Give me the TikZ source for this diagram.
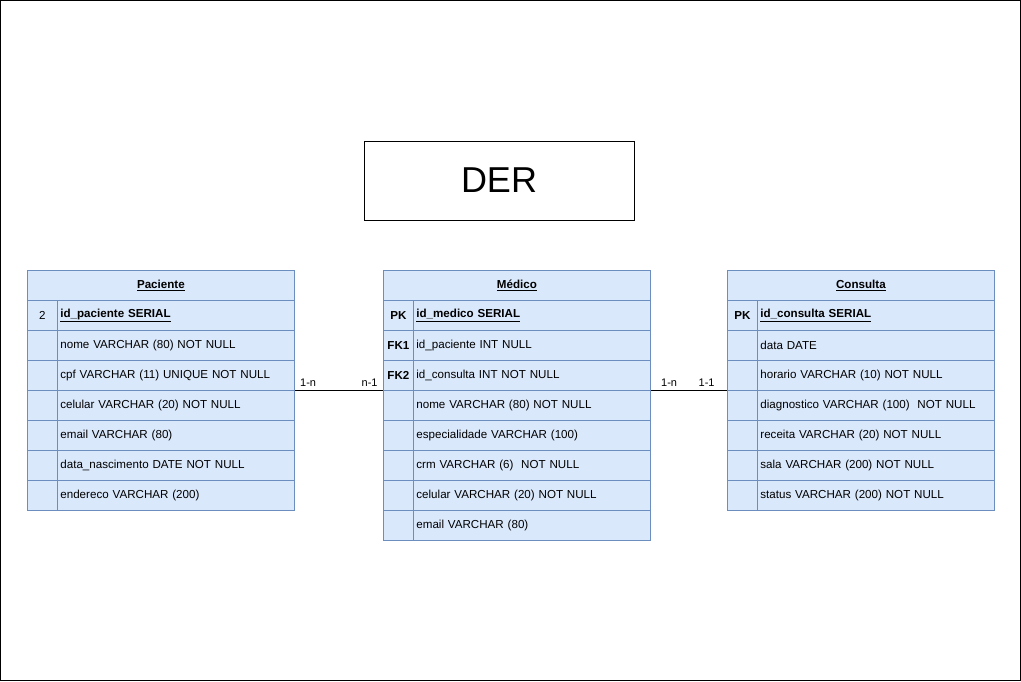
\documentclass[tikz,border=0pt]{standalone}
\usepackage{fontspec}
\setmainfont{Liberation Sans}
\usetikzlibrary{positioning}
\definecolor{tablefill}{HTML}{DAE8FC}
\definecolor{tableline}{HTML}{6C8EBF}

\tikzset{
  cell/.style={draw=tableline, fill=tablefill, line width=0.8pt, minimum height=30pt,
    inner sep=0pt, font=\fontsize{11.6}{14}\selectfont},
  keycell/.style={cell, minimum width=30pt},
  fieldcell/.style={cell, text width=231pt, minimum width=237pt, align=left, inner xsep=3pt},
  headcell/.style={cell, minimum width=267pt, font=\fontsize{11.6}{14}\selectfont\bfseries},
  card/.style={font=\fontsize{11}{13}\selectfont, inner sep=2pt}
}

\begin{document}
\begin{tikzpicture}[x=1pt, y=-1pt]
  \useasboundingbox (0,0) rectangle (1021,681);
  \draw [line width=0.8pt] (0.5,0.5) rectangle (1020.5,680.5);

  % title
  \node [draw, line width=0.8pt, minimum width=270pt, minimum height=79pt,
    font=\fontsize{36}{40}\selectfont] (der) at (499,180.5) {DER};

  % Paciente
  \node [headcell, anchor=north west] (pac-h) at (27,270) {\underline{Paciente}};
  \foreach \k/\f [count=\i] in {
      2/{\textbf{\underline{id\_paciente SERIAL}}},
      {}/{nome VARCHAR (80) NOT NULL},
      {}/{cpf VARCHAR (11) UNIQUE NOT NULL},
      {}/{celular VARCHAR (20) NOT NULL},
      {}/{email VARCHAR (80)},
      {}/{data\_nascimento DATE NOT NULL},
      {}/{endereco VARCHAR (200)}} {
    \node [keycell, anchor=north west] (pac-k\i) at (27,270+30*\i) {\k};
    \node [fieldcell, anchor=north west] (pac-f\i) at (57,270+30*\i) {\f};
  }

  % Medico
  \node [headcell, anchor=north west] (med-h) at (383,270) {\underline{Médico}};
  \foreach \k/\f [count=\i] in {
      {\textbf{PK}}/{\textbf{\underline{id\_medico SERIAL}}},
      {\textbf{FK1}}/{id\_paciente INT NULL},
      {\textbf{FK2}}/{id\_consulta INT NOT NULL},
      {}/{nome VARCHAR (80) NOT NULL},
      {}/{especialidade VARCHAR (100)},
      {}/{crm VARCHAR (6) ~NOT NULL},
      {}/{celular VARCHAR (20) NOT NULL},
      {}/{email VARCHAR (80)}} {
    \node [keycell, anchor=north west] (med-k\i) at (383,270+30*\i) {\k};
    \node [fieldcell, anchor=north west] (med-f\i) at (413,270+30*\i) {\f};
  }

  % Consulta
  \node [headcell, anchor=north west] (con-h) at (727,270) {\underline{Consulta}};
  \foreach \k/\f [count=\i] in {
      {\textbf{PK}}/{\textbf{\underline{id\_consulta SERIAL}}},
      {}/{data DATE},
      {}/{horario VARCHAR (10) NOT NULL},
      {}/{diagnostico VARCHAR (100) ~NOT NULL},
      {}/{receita VARCHAR (20) NOT NULL},
      {}/{sala VARCHAR (200) NOT NULL},
      {}/{status VARCHAR (200) NOT NULL}} {
    \node [keycell, anchor=north west] (con-k\i) at (727,270+30*\i) {\k};
    \node [fieldcell, anchor=north west] (con-f\i) at (757,270+30*\i) {\f};
  }

  % relations
  \draw [line width=0.8pt] (pac-f3.south east) -- (med-k3.south west)
    node [card, pos=0, anchor=south west, xshift=3pt, yshift=2pt] {1-n}
    node [card, pos=1, anchor=south east, xshift=-3pt, yshift=2pt] {n-1};
  \draw [line width=0.8pt] (med-f3.south east) -- (con-k3.south west)
    node [card, pos=0, anchor=south west, xshift=8pt, yshift=2pt] {1-n}
    node [card, pos=1, anchor=south east, xshift=-10pt, yshift=2pt] {1-1};
\end{tikzpicture}
\end{document}
